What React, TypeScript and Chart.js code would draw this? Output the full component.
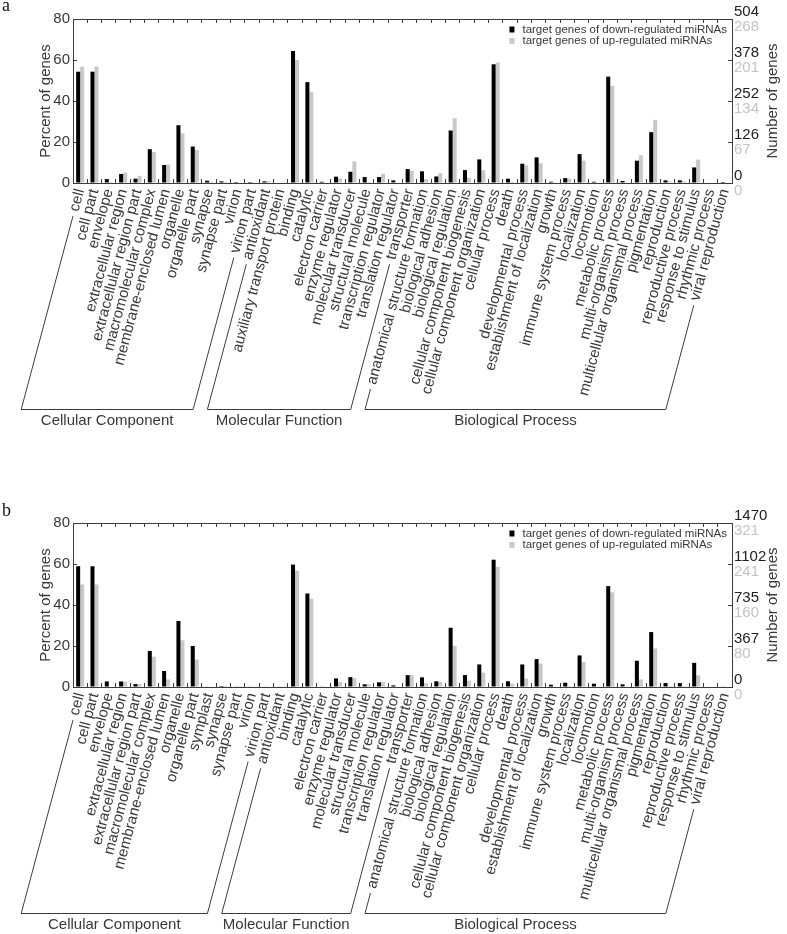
import React, { useEffect, useRef } from 'react';
import { Chart, registerables } from 'chart.js';

Chart.register(...registerables);

const FONT = "'Liberation Sans', Arial, Helvetica, sans-serif";
const TEXT = '#383838';
const AXIS = '#3c3c3c';
const BLACK = '#000000';
const GRAY = '#c8c8c8';
const GRAY_TEXT = '#c4c4c4';

const seriesNames = ['target genes of down-regulated miRNAs', 'target genes of up-regulated miRNAs'];
const groupNames = ['Cellular Component', 'Molecular Function', 'Biological Process'];

const bpCategories = [
  'anatomical structure formation', 'biological adhesion', 'biological regulation',
  'cellular component biogenesis', 'cellular component organization', 'cellular process',
  'death', 'developmental process', 'establishment of localization', 'growth',
  'immune system process', 'localization', 'locomotion', 'metabolic process',
  'multi-organism process', 'multicellular organismal process', 'pigmentation',
  'reproduction', 'reproductive process', 'response to stimulus', 'rhythmic process',
  'viral reproduction',
];

// ---------- panel a ----------
const categoriesA = [
  'cell', 'cell part', 'envelope', 'extracellular region', 'extracellular region part',
  'macromolecular complex', 'membrane-enclosed lumen', 'organelle', 'organelle part',
  'synapse', 'synapse part', 'virion', 'virion part',
  'antioxidant', 'auxiliary transport protein', 'binding', 'catalytic', 'electron carrier',
  'enzyme regulator', 'molecular transducer', 'structural molecule',
  'transcription regulator', 'translation regulator', 'transporter',
  ...bpCategories,
];
const downA = [
  54.3, 54.3, 1.9, 4.4, 2.1, 16.5, 8.8, 28.2, 17.8, 1.1, 0.8, 0.5, 0.5,
  0.8, 0, 64.4, 49.2, 0.6, 3.1, 5.5, 2.9, 2.9, 1.3, 6.8,
  5.7, 3.2, 25.6, 6.3, 11.5, 57.9, 2.1, 9.4, 12.5, 0.6, 2.4, 14.1, 0.6, 51.9, 1.0, 10.9, 24.8, 1.3, 1.3, 7.6, 0, 0.5,
];
const upA = [
  56.8, 56.8, 0.4, 5.1, 3.5, 15.1, 9.0, 24.3, 16.1, 0.6, 0.6, 0.2, 0.3,
  1.0, 0, 60.0, 44.3, 0.2, 2.3, 10.5, 0.5, 4.5, 0.3, 6.0,
  1.9, 4.7, 31.6, 2.6, 6.2, 58.7, 0.6, 8.6, 9.6, 0.3, 2.1, 10.9, 0.2, 47.4, 0.4, 13.5, 30.8, 0.8, 0.8, 11.4, 0, 0.2,
];
const countTicksDownA = ['0', '126', '252', '378', '504'];
const countTicksUpA = ['0', '67', '134', '201', '268'];
const groupStartsA = [0, 13, 24];
const groupEndsA = [12, 23, 45];

// ---------- panel b ----------
const categoriesB = [
  'cell', 'cell part', 'envelope', 'extracellular region', 'extracellular region part',
  'macromolecular complex', 'membrane-enclosed lumen', 'organelle', 'organelle part',
  'symplast', 'synapse', 'synapse part', 'virion', 'virion part',
  'antioxidant', 'binding', 'catalytic', 'electron carrier',
  'enzyme regulator', 'molecular transducer', 'structural molecule',
  'transcription regulator', 'translation regulator', 'transporter',
  ...bpCategories,
];
const downB = [
  58.9, 58.9, 2.7, 2.7, 1.4, 17.6, 7.8, 32.2, 20.0, 0.2, 0.5, 0.3, 0.2, 0.2,
  0.2, 59.7, 45.6, 0.3, 4.2, 4.8, 1.3, 2.3, 0.8, 5.8,
  4.7, 2.8, 28.9, 5.8, 11.0, 62.1, 2.8, 11.0, 13.6, 1.1, 2.1, 15.4, 1.6, 49.2, 1.3, 12.8, 26.8, 1.9, 1.9, 11.8, 0, 0.3,
];
const upB = [
  50.0, 50.0, 0.2, 2.6, 1.4, 14.8, 3.7, 22.8, 13.4, 0.2, 0.6, 0.5, 0.2, 0.2,
  0.2, 56.8, 43.1, 0.3, 2.4, 4.3, 1.4, 2.3, 0.2, 5.8,
  1.8, 2.4, 20.0, 3.1, 7.0, 58.6, 1.6, 4.1, 11.4, 0.3, 0.5, 12.2, 0.3, 46.2, 0.3, 3.7, 18.8, 0.5, 0.5, 5.7, 0, 0,
];
const countTicksDownB = ['0', '367', '735', '1102', '1470'];
const countTicksUpB = ['0', '80', '160', '241', '321'];
const groupStartsB = [0, 14, 24];
const groupEndsB = [13, 23, 45];

const W = 787;
const H = 430;

const decorPlugin = {
  id: 'goDecor',
  afterDraw(chart: any, _args: any, opts: any) {
    const { ctx, chartArea } = chart;
    const xs: any = chart.scales.x;
    const items: any[] = typeof xs.getLabelItems === 'function' ? xs.getLabelItems() : xs._labelItems;
    ctx.save();

    // group brackets
    const yb = Math.round(chartArea.bottom + 226) + 0.5;
    ctx.strokeStyle = AXIS;
    ctx.lineWidth = 1;
    const GAP = 5;
    const endPoint = (i: number) => {
      const it = items[i];
      const th = -it.options.rotation;
      const [tx, ty] = it.options.translation;
      const v = it.textOffset || 0;
      const mx = tx + v * Math.sin(th);
      const my = ty + v * Math.cos(th);
      ctx.font = it.font.string;
      const w = ctx.measureText(String(it.label)).width;
      const s = w + GAP;
      const sx = mx - s * Math.cos(th);
      const sy = my + s * Math.sin(th);
      const t = (yb - my) / Math.sin(th);
      const ex = mx - t * Math.cos(th);
      return { sx, sy, ex };
    };
    opts.starts.forEach((f: number, g: number) => {
      const a = endPoint(f);
      const b = endPoint(opts.ends[g]);
      ctx.beginPath();
      ctx.moveTo(a.sx, a.sy);
      ctx.lineTo(a.ex, yb);
      ctx.lineTo(b.ex, yb);
      ctx.lineTo(b.sx, b.sy);
      ctx.stroke();
      ctx.fillStyle = TEXT;
      ctx.font = `15px ${FONT}`;
      ctx.textAlign = 'center';
      ctx.textBaseline = 'middle';
      ctx.fillText(groupNames[g], (a.ex + b.ex) / 2, yb + 11);
    });

    // second (grey) set of count labels on the right axis
    const ys: any = chart.scales.y2;
    ctx.fillStyle = GRAY_TEXT;
    ctx.font = `15px ${FONT}`;
    ctx.textAlign = 'left';
    ctx.textBaseline = 'middle';
    ys.ticks.forEach((tk: any) => {
      const lbl = opts.countUp[Math.round(Number(tk.value) / 20)];
      if (lbl !== undefined) ctx.fillText(lbl, chartArea.right + 2, ys.getPixelForValue(tk.value) + 7.5);
    });

    // right axis title
    ctx.save();
    ctx.translate(773, (chartArea.top + chartArea.bottom) / 2);
    ctx.rotate(-Math.PI / 2);
    ctx.fillStyle = TEXT;
    ctx.font = `15px ${FONT}`;
    ctx.textAlign = 'center';
    ctx.textBaseline = 'middle';
    ctx.fillText('Number of genes', 0, 0);
    ctx.restore();

    // legend inside plot
    ctx.font = `11.5px ${FONT}`;
    const maxW = Math.max(...chart.data.datasets.map((d: any) => ctx.measureText(d.label).width));
    const textX = chartArea.right - 5 - maxW;
    chart.data.datasets.forEach((d: any, i: number) => {
      const cy = chartArea.top + 10.5 + i * 11.5;
      ctx.fillStyle = d.backgroundColor;
      ctx.fillRect(textX - 13, cy - 3, 5, 6);
      ctx.fillStyle = TEXT;
      ctx.textAlign = 'left';
      ctx.textBaseline = 'middle';
      ctx.fillText(d.label, textX, cy);
    });
    ctx.restore();
  },
};

type PanelProps = {
  categories: string[];
  down: number[];
  up: number[];
  countDown: string[];
  countUp: string[];
  starts: number[];
  ends: number[];
};

function GoPanel({ categories, down, up, countDown, countUp, starts, ends }: PanelProps) {
  const ref = useRef<HTMLCanvasElement>(null);
  useEffect(() => {
    if (!ref.current) return;
    const font = { family: FONT, size: 15 };
    const chart = new Chart(ref.current, {
      type: 'bar',
      data: {
        labels: categories,
        datasets: [
          { label: seriesNames[0], data: down, backgroundColor: BLACK, categoryPercentage: 0.56, barPercentage: 1.0, xAxisID: 'x', yAxisID: 'y' },
          { label: seriesNames[1], data: up, backgroundColor: GRAY, categoryPercentage: 0.56, barPercentage: 1.0, xAxisID: 'x', yAxisID: 'y' },
        ],
      },
      options: {
        responsive: false,
        animation: false,
        devicePixelRatio: 1,
        layout: { padding: { top: 19, left: 0, right: 0, bottom: 0 } },
        plugins: {
          legend: { display: false },
          tooltip: { enabled: false },
          goDecor: { starts, ends, countUp },
        } as any,
        scales: {
          x: {
            type: 'category',
            position: 'bottom',
            offset: true,
            grid: { offset: true, drawOnChartArea: false, tickLength: -4, color: AXIS },
            border: { display: true, color: AXIS },
            ticks: { autoSkip: false, minRotation: 75, maxRotation: 75, font, color: TEXT, padding: 8 },
            afterFit: (s: any) => { s.height = H - 183; },
          },
          x2: {
            type: 'category',
            position: 'top',
            offset: true,
            grid: { offset: true, drawOnChartArea: false, tickLength: -4, color: AXIS },
            border: { display: true, color: AXIS },
            ticks: { display: false },
            afterFit: (s: any) => { s.height = 0; },
          },
          y: {
            type: 'linear',
            position: 'left',
            min: 0,
            max: 80,
            grid: { drawOnChartArea: false, tickLength: -4, color: AXIS },
            border: { display: true, color: AXIS },
            ticks: { stepSize: 20, font, color: TEXT, padding: 7 },
            title: { display: true, text: 'Percent of genes', font, color: TEXT, padding: { top: 37, bottom: 0 } },
            afterFit: (s: any) => { s.width = 73; },
          },
          y2: {
            type: 'linear',
            position: 'right',
            min: 0,
            max: 80,
            grid: { drawOnChartArea: false, tickLength: -4, color: AXIS },
            border: { display: true, color: AXIS },
            ticks: {
              stepSize: 20, font, color: '#222222', padding: 6, labelOffset: -7,
              callback: (v: any) => countDown[Math.round(Number(v) / 20)],
            },
            afterFit: (s: any) => { s.width = W - 732; },
          },
        } as any,
      },
      plugins: [decorPlugin],
    });
    return () => chart.destroy();
  }, []);
  return <canvas ref={ref} width={W} height={H} style={{ display: 'block', width: W, height: H }} />;
}

const panelLetter: React.CSSProperties = {
  position: 'absolute',
  left: 2,
  font: "18px 'Liberation Serif', 'Times New Roman', serif",
  lineHeight: '18px',
  color: '#111',
};

export default function App() {
  return (
    <div style={{ position: 'absolute', left: 0, top: 0, width: W, height: 934, background: '#fff', overflow: 'hidden' }}>
      <div style={{ position: 'absolute', left: 0, top: 0 }}>
        <GoPanel categories={categoriesA} down={downA} up={upA} countDown={countTicksDownA} countUp={countTicksUpA} starts={groupStartsA} ends={groupEndsA} />
      </div>
      <div style={{ position: 'absolute', left: 0, top: 504 }}>
        <GoPanel categories={categoriesB} down={downB} up={upB} countDown={countTicksDownB} countUp={countTicksUpB} starts={groupStartsB} ends={groupEndsB} />
      </div>
      <div style={{ ...panelLetter, top: -4 }}>a</div>
      <div style={{ ...panelLetter, top: 501 }}>b</div>
    </div>
  );
}
